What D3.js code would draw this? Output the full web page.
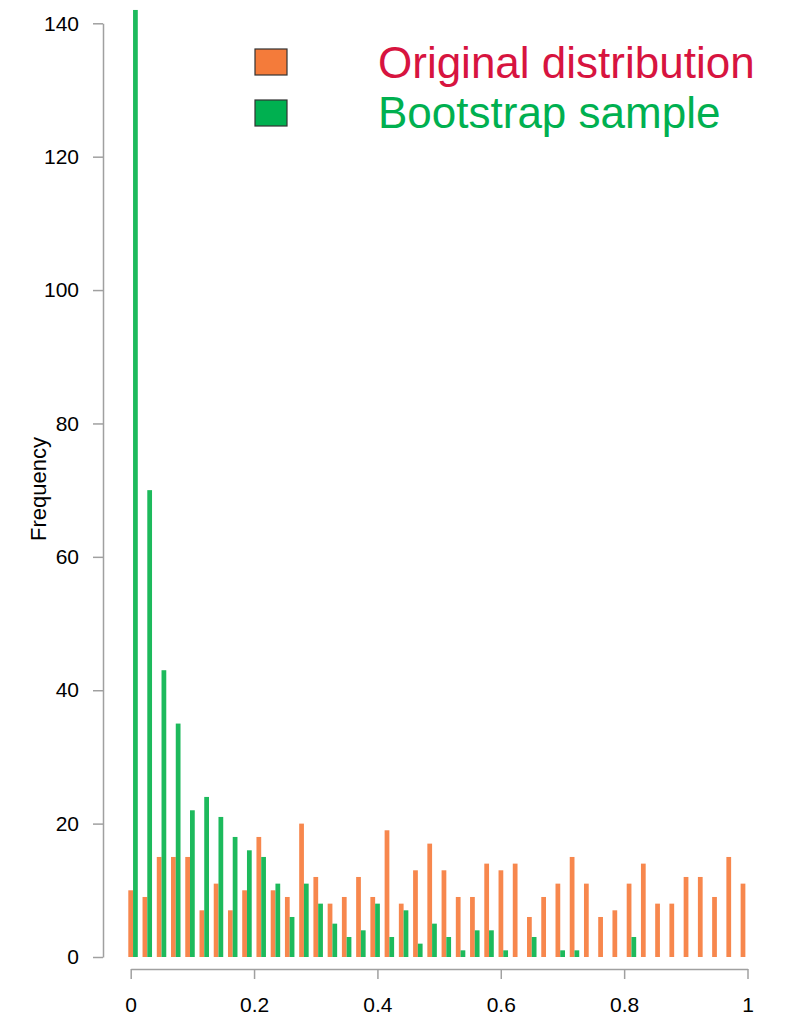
<!DOCTYPE html>
<html>
<head>
<meta charset="utf-8">
<script src="https://cdn.jsdelivr.net/npm/d3@7"></script>
<style>
  body { margin: 0; background: #fff; }
  text { font-family: "Liberation Sans", Arial, sans-serif; }
</style>
</head>
<body>
<div id="chart"></div>
<script>
// counts per bin
const original = [10, 9, 15, 15, 15, 7, 11, 7, 10, 18, 10, 9, 20, 12, 8, 9, 12, 9, 19, 8, 13, 17,
  13, 9, 9, 14, 13, 14, 6, 9, 11, 15, 11, 6, 7, 11, 14, 8, 8, 12, 12, 9, 15, 11]
const bootstrap = [142, 70, 43, 35, 22, 24, 21, 18, 16, 15, 11, 6, 11, 8, 5, 3, 4, 8, 3, 7, 2, 5,
  3, 1, 4, 4, 1, 0, 3, 0, 1, 1, 0, 0, 0, 3, 0, 0, 0, 0, 0, 0, 0, 0]
const seriesNames = ["Original distribution", "Bootstrap sample"]
const xTicks = [0, 0.2, 0.4, 0.6, 0.8, 1]
const yTicks = [0, 20, 40, 60, 80, 100, 120, 140]

const width = 791, height = 1024

const svg = d3.select('#chart')
  .append('svg')
    .attr('width', width)
    .attr('height', height)

const x = d3.scaleLinear().domain([0, 1]).range([130.7, 747.5])
const y = d3.scaleLinear().domain([0, 140]).range([957, 23.3])

// bar groups: two bars side by side, one empty slot between groups
const step = 14.24
const bins = d3.scaleBand()
  .domain(d3.range(original.length))
  .range([128.3, 128.3 + original.length * step - step / 3])
  .paddingInner(1 / 3)
  .paddingOuter(0)
const sub = d3.scaleBand().domain([0, 1]).range([0, bins.bandwidth()])

const barColors = ['#F7874D', '#1DBA5C']

const groups = svg.append('g').selectAll('g')
  .data(original.map((d, i) => [d, bootstrap[i]]))
  .enter()
  .append('g')
    .attr('transform', (d, i) => 'translate(' + bins(i) + ',0)')

groups.each(function(d) {
  d.forEach((v, j) => {
    if (v <= 0) return
    d3.select(this).append('rect')
      .attr('x', sub(j))
      .attr('width', sub.bandwidth())
      .attr('y', y(v))
      .attr('height', y(0) - y(v))
      .attr('fill', barColors[j])
  })
})

// axes
const xAxis = svg.append('g')
  .attr('transform', 'translate(0,969)')
  .call(d3.axisBottom(x).tickValues(xTicks).tickFormat(d3.format('')).tickSizeInner(10).tickSizeOuter(0).tickPadding(18))
xAxis.select('.domain').attr('stroke', '#a0a0a0').attr('stroke-width', 1.5)
xAxis.selectAll('.tick line').attr('stroke', '#a0a0a0').attr('stroke-width', 1.5)
xAxis.selectAll('text').attr('font-size', 21).attr('fill', '#000')

const yAxis = svg.append('g')
  .attr('transform', 'translate(103,0)')
  .call(d3.axisLeft(y).tickValues(yTicks).tickSizeInner(10).tickSizeOuter(0).tickPadding(14))
yAxis.select('.domain').attr('stroke', '#a0a0a0').attr('stroke-width', 1.5)
yAxis.selectAll('.tick line').attr('stroke', '#a0a0a0').attr('stroke-width', 1.5)
yAxis.selectAll('text').attr('font-size', 21).attr('fill', '#000')

svg.append('text')
  .attr('transform', 'translate(46,489) rotate(-90)')
  .attr('text-anchor', 'middle')
  .attr('font-size', 22)
  .text('Frequency')

// legend
const legendFill = ['#F47B3A', '#00B050']
const legendText = ['#D7143F', '#00B050']
seriesNames.forEach((name, i) => {
  svg.append('rect')
    .attr('x', 255)
    .attr('y', 49 + i * 51)
    .attr('width', 32)
    .attr('height', 26)
    .attr('fill', legendFill[i])
    .attr('stroke', '#333')
    .attr('stroke-width', 1.2)
  svg.append('text')
    .attr('x', 378)
    .attr('y', 78 + i * 50)
    .attr('font-size', 44)
    .attr('fill', legendText[i])
    .text(name)
})
</script>
</body>
</html>
